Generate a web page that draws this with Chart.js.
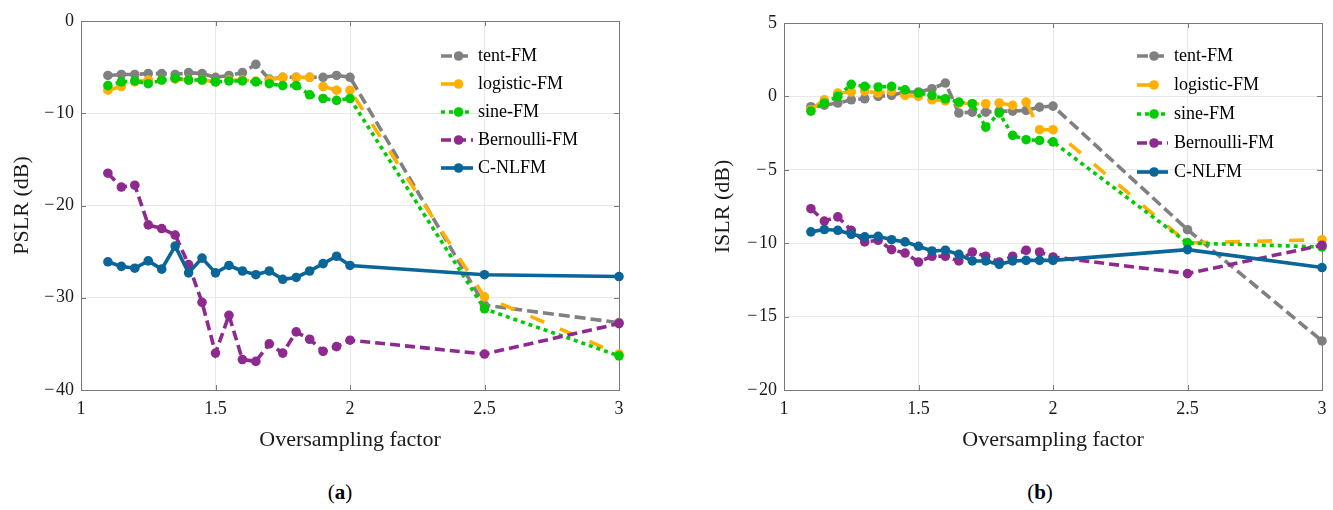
<!DOCTYPE html>
<html>
<head>
<meta charset="utf-8">
<title>PSLR and ISLR versus oversampling factor</title>
<script src="https://cdn.jsdelivr.net/npm/chart.js@4.4.1/dist/chart.umd.min.js"></script>
<style>
  html, body { margin: 0; padding: 0; background: #fff; }
  body { width: 1333px; height: 510px; position: relative; overflow: hidden;
         font-family: "Liberation Serif", "Times New Roman", serif; }
  .panel { position: absolute; top: 0; }
  #panelA { left: 0; }
  #panelB { left: 700px; }
  .cap { position: absolute; top: 480px; line-height: 24px; font-size: 21px; color: #000;
         transform: translateX(-50%); white-space: nowrap; }
</style>
</head>
<body>
<div class="panel" id="panelA"><canvas id="chartA" width="660" height="460"></canvas></div>
<div class="panel" id="panelB"><canvas id="chartB" width="633" height="460"></canvas></div>
<div class="cap" style="left:340px">(<b>a</b>)</div>
<div class="cap" style="left:1040px">(<b>b</b>)</div>

<script>
// Oversampling factors shared by every curve
const factors = [1.1, 1.15, 1.2, 1.25, 1.3, 1.35, 1.4, 1.45, 1.5, 1.55, 1.6,
                 1.65, 1.7, 1.75, 1.8, 1.85, 1.9, 1.95, 2.0, 2.5, 3.0];

// Peak sidelobe level (dB)
const pslrTent      = [-5.9, -5.8, -5.8, -5.7, -5.7, -5.8, -5.6, -5.7, -6.1, -5.9, -5.6,
                       -4.7, -6.3, -6.1, -6.1, -6.1, -6.1, -5.9, -6.1, -30.8, -32.7];
const pslrLogistic  = [-7.5, -7.1, -6.6, -6.4, -6.4, -6.3, -6.4, -6.4, -6.6, -6.4, -6.4,
                       -6.5, -6.4, -6.1, -6.1, -6.1, -7.1, -7.5, -7.5, -29.9, -36.1];
const pslrSine      = [-7.0, -6.6, -6.5, -6.8, -6.4, -6.2, -6.4, -6.4, -6.6, -6.5, -6.5,
                       -6.6, -6.8, -7.0, -7.0, -8.0, -8.4, -8.6, -8.4, -31.2, -36.3];
const pslrBernoulli = [-16.5, -18.0, -17.8, -22.1, -22.5, -23.2, -26.4, -30.5, -36.0, -31.9, -36.7,
                       -36.9, -35.0, -36.0, -33.7, -34.5, -35.8, -35.3, -34.6, -36.1, -32.8];
const pslrCnlfm     = [-26.1, -26.6, -26.8, -26.0, -26.9, -24.4, -27.3, -25.7, -27.3, -26.5, -27.1,
                       -27.5, -27.1, -28.0, -27.8, -27.1, -26.3, -25.5, -26.5, -27.5, -27.7];

// Integrated sidelobe level (dB)
const islrTent      = [-0.7, -0.6, -0.45, -0.23, -0.16, 0.0, 0.07, 0.3, 0.3, 0.52, 0.91,
                       -1.13, -1.07, -1.07, -1.0, -1.0, -0.95, -0.73, -0.66, -9.08, -16.66];
const islrLogistic  = [-0.91, -0.23, 0.23, 0.3, 0.36, 0.23, 0.36, 0.07, 0.0, -0.23, -0.3,
                       -0.45, -0.5, -0.5, -0.45, -0.61, -0.39, -2.27, -2.27, -9.98, -9.76];
const islrSine      = [-1.0, -0.45, 0.0, 0.82, 0.68, 0.64, 0.68, 0.45, 0.23, 0.07, -0.16,
                       -0.39, -0.5, -2.09, -1.13, -2.65, -2.95, -3.0, -3.1, -9.98, -10.26];
const islrBernoulli = [-7.65, -8.49, -8.21, -9.12, -9.91, -9.8, -10.44, -10.67, -11.28, -10.89, -10.89,
                       -11.21, -10.6, -10.89, -11.28, -10.89, -10.48, -10.6, -10.94, -12.07, -10.14];
const islrCnlfm     = [-9.23, -9.07, -9.12, -9.39, -9.57, -9.53, -9.76, -9.91, -10.21, -10.53, -10.48,
                       -10.76, -11.21, -11.21, -11.44, -11.21, -11.17, -11.17, -11.17, -10.44, -11.66];

// Tick labels
const xTicks    = [1, 1.5, 2, 2.5, 3];
const pslrTicks = [0, -10, -20, -30, -40];
const islrTicks = [5, 0, -5, -10, -15, -20];

// Series names
const seriesNames = ['tent-FM', 'logistic-FM', 'sine-FM', 'Bernoulli-FM', 'C-NLFM'];

// Line styles per series
const seriesColors = ['#808080', '#FFB000', '#00CC00', '#8E2A8E', '#0A6699'];
const seriesDash   = [[11, 5], [15, 17], [4, 4], [10, 5], []];

const serif = '"Liberation Serif", "Times New Roman", serif';
// Negative tick values use a true minus sign followed by a hair space
const fmtTick = v => (v < 0 ? '\u2212\u200A' + Math.abs(v) : String(v));

// Box around the plot area with inward tick marks
const framePlugin = {
  id: 'frame',
  beforeDatasetsDraw(chart) {
    const { ctx, chartArea: a, scales: { x, y } } = chart;
    const len = 5;
    ctx.save();
    ctx.strokeStyle = '#7a7a7a';
    ctx.lineWidth = 1;
    ctx.setLineDash([]);
    ctx.strokeRect(Math.round(a.left) + 0.5, Math.round(a.top) + 0.5,
                   Math.round(a.width), Math.round(a.height));
    ctx.beginPath();
    x.ticks.forEach(t => {
      const px = Math.round(x.getPixelForValue(t.value)) + 0.5;
      ctx.moveTo(px, a.bottom); ctx.lineTo(px, a.bottom - len);
      ctx.moveTo(px, a.top); ctx.lineTo(px, a.top + len);
    });
    y.ticks.forEach(t => {
      const py = Math.round(y.getPixelForValue(t.value)) + 0.5;
      ctx.moveTo(a.left, py); ctx.lineTo(a.left + len, py);
      ctx.moveTo(a.right, py); ctx.lineTo(a.right - len, py);
    });
    ctx.stroke();
    ctx.restore();
  }
};

// Legend entries: line sample with its marker, followed by the label
const lineLegendPlugin = {
  id: 'lineLegend',
  afterDraw(chart, args, opts) {
    const ctx = chart.ctx;
    ctx.save();
    chart.data.datasets.forEach((ds, i) => {
      const y = opts.top + i * opts.rowGap;
      const x0 = opts.left, x1 = opts.left + opts.lineLen;
      ctx.strokeStyle = ds.borderColor;
      ctx.lineWidth = ds.borderWidth;
      ctx.lineCap = 'butt';
      ctx.setLineDash(ds.borderDash);
      ctx.beginPath(); ctx.moveTo(x0, y); ctx.lineTo(x1, y); ctx.stroke();
      ctx.setLineDash([]);
      ctx.fillStyle = ds.pointBackgroundColor;
      ctx.beginPath(); ctx.arc(x0 + opts.lineLen * 0.55, y, ds.pointRadius, 0, Math.PI * 2); ctx.fill();
      ctx.fillStyle = '#000';
      ctx.font = opts.fontSize + 'px ' + serif;
      ctx.textAlign = 'left';
      ctx.textBaseline = 'middle';
      ctx.fillText(ds.label, x1 + opts.gap, y);
    });
    ctx.restore();
  }
};

function buildChart(canvasId, cfg) {
  const datasets = cfg.series.map((vals, i) => ({
    label: seriesNames[i],
    data: factors.map((f, k) => ({ x: f, y: vals[k] })),
    borderColor: seriesColors[i],
    backgroundColor: seriesColors[i],
    pointBackgroundColor: seriesColors[i],
    pointBorderColor: seriesColors[i],
    pointBorderWidth: 0,
    pointRadius: 4.8,
    borderWidth: 3.6,
    borderDash: seriesDash[i],
    tension: 0,
    fill: false,
    clip: false,
    order: seriesNames.length - i
  }));

  return new Chart(document.getElementById(canvasId), {
    type: 'line',
    data: { datasets },
    options: {
      responsive: false,
      animation: false,
      events: [],
      layout: { padding: cfg.padding },
      plugins: {
        legend: { display: false },
        tooltip: { enabled: false },
        lineLegend: cfg.legend
      },
      scales: {
        x: {
          type: 'linear',
          min: 1, max: 3,
          afterBuildTicks: s => { s.ticks = xTicks.map(v => ({ value: v })); },
          afterFit: s => {
            s.height = 70;
            s.paddingLeft = s.paddingRight = s.paddingTop = s.paddingBottom = 0;
          },
          grid: { color: '#e8e8e8', lineWidth: 1, drawTicks: false },
          border: { display: false },
          ticks: { padding: 8, color: '#1a1a1a', font: { family: serif, size: 18 },
                   maxRotation: 0, autoSkip: false, callback: fmtTick },
          title: { display: true, text: 'Oversampling factor', color: '#1a1a1a',
                   font: { family: serif, size: 22 }, padding: { top: 0, bottom: 7 } }
        },
        y: {
          type: 'linear',
          min: cfg.yMin, max: cfg.yMax,
          afterBuildTicks: s => { s.ticks = cfg.yTicks.map(v => ({ value: v })); },
          afterFit: s => {
            s.width = cfg.yWidth;
            s.paddingLeft = s.paddingRight = s.paddingTop = s.paddingBottom = 0;
          },
          grid: { color: '#e8e8e8', lineWidth: 1, drawTicks: false },
          border: { display: false },
          ticks: { padding: 7, color: '#1a1a1a', font: { family: serif, size: 18 },
                   autoSkip: false, callback: fmtTick },
          title: { display: true, text: cfg.yTitle, color: '#1a1a1a',
                   font: { family: serif, size: 22 }, padding: { top: cfg.yTitlePad, bottom: 0 } }
        }
      }
    },
    plugins: [framePlugin, lineLegendPlugin]
  });
}

buildChart('chartA', {
  series: [pslrTent, pslrLogistic, pslrSine, pslrBernoulli, pslrCnlfm],
  yMin: -40, yMax: 0, yTicks: pslrTicks,
  yTitle: 'PSLR (dB)', yTitlePad: 9, yWidth: 81,
  padding: { left: 0, right: 41, top: 21, bottom: 0 },
  legend: { left: 441, top: 56, rowGap: 28, lineLen: 32, gap: 5, fontSize: 18 }
});

buildChart('chartB', {
  series: [islrTent, islrLogistic, islrSine, islrBernoulli, islrCnlfm],
  yMin: -20, yMax: 5, yTicks: islrTicks,
  yTitle: 'ISLR (dB)', yTitlePad: 10, yWidth: 84,
  padding: { left: 0, right: 11, top: 23, bottom: 0 },
  legend: { left: 437, top: 56, rowGap: 29, lineLen: 31, gap: 6, fontSize: 18 }
});
</script>
</body>
</html>
